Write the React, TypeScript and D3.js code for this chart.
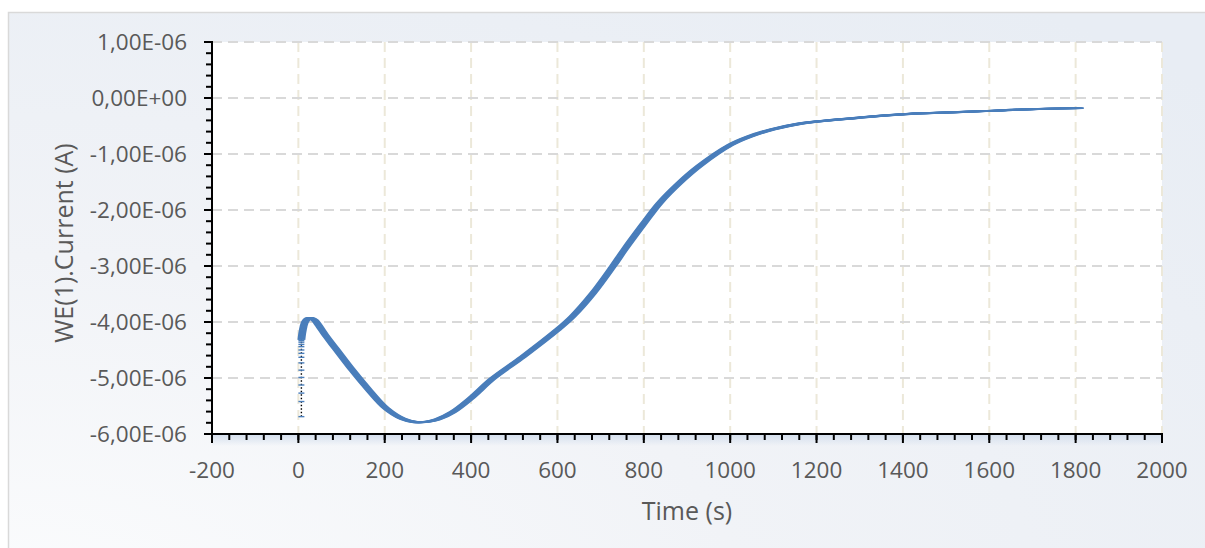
import * as React from 'react'
import { useEffect, useRef } from 'react'
import * as d3 from 'd3'

// sparse readings at switch-on (vertical run near t = 0)
const startTime = [7, 7, 7, 7, 7, 7, 7, 7, 7, 7, 7, 7, 7, 7]
const startCurrent = [
  -5.69e-6, -5.42e-6, -5.27e-6, -5.125e-6, -4.99e-6, -4.86e-6, -4.73e-6,
  -4.63e-6, -4.56e-6, -4.5e-6, -4.44e-6, -4.4e-6, -4.36e-6, -4.33e-6,
]

// main trace
const mainTime = [
  7, 9, 12, 16, 22, 29, 38, 48, 65, 87, 126, 164, 203, 242, 273, 300, 322,
  357, 398, 450, 520, 600, 635, 682, 728, 755, 800, 836, 882, 929, 1000, 1044,
  1098, 1160, 1200, 1300, 1400, 1500, 1600, 1693, 1812,
]
const mainCurrent = [
  -4.32e-6, -4.2e-6, -4.08e-6, -3.99e-6, -3.94e-6, -3.93e-6, -3.97e-6,
  -4.07e-6, -4.26e-6, -4.48e-6, -4.87e-6, -5.22e-6, -5.54e-6, -5.73e-6,
  -5.79e-6, -5.78e-6, -5.74e-6, -5.61e-6, -5.37e-6, -5.01e-6, -4.62e-6,
  -4.14e-6, -3.9e-6, -3.49e-6, -3.01e-6, -2.71e-6, -2.24e-6, -1.88e-6,
  -1.52e-6, -1.21e-6, -0.84e-6, -0.69e-6, -0.56e-6, -0.46e-6, -0.42e-6,
  -0.35e-6, -0.29e-6, -0.26e-6, -0.23e-6, -0.2e-6, -0.18e-6,
]

const xTicks = [-200, 0, 200, 400, 600, 800, 1000, 1200, 1400, 1600, 1800, 2000]
const yTicks = [1e-6, 0, -1e-6, -2e-6, -3e-6, -4e-6, -5e-6, -6e-6]
const yTickLabels = [
  '1,00E-06', '0,00E+00', '-1,00E-06', '-2,00E-06', '-3,00E-06', '-4,00E-06',
  '-5,00E-06', '-6,00E-06',
]

const W = 1205
const H = 548
const FONT = '"Open Sans", sans-serif'
const TEXT = '#595959'
const BLUE = '#4a7ebb'

export default function App() {
  const svgRef = useRef<SVGSVGElement>(null)

  useEffect(() => {
    if (!svgRef.current) return
    const svg = d3.select(svgRef.current)
    svg.selectAll('*').remove()

    const left = 212
    const right = 1162
    const top = 42
    const bottom = 434

    const x = d3.scaleLinear().domain([-200, 2000]).range([left, right])
    const y = d3.scaleLinear().domain([-6e-6, 1e-6]).range([bottom, top])

    const defs = svg.append('defs')
    const bg = defs.append('radialGradient')
      .attr('id', 'bg')
      .attr('cx', '0').attr('cy', '1').attr('r', '1.3')
    bg.append('stop').attr('offset', '0').attr('stop-color', '#fbfcfd')
    bg.append('stop').attr('offset', '0.45').attr('stop-color', '#f1f3f7')
    bg.append('stop').attr('offset', '1').attr('stop-color', '#e8edf4')

    const band = defs.append('linearGradient')
      .attr('id', 'band').attr('x1', 0).attr('y1', 0).attr('x2', 0).attr('y2', 1)
    band.append('stop').attr('offset', '0').attr('stop-color', '#d3deed')
    band.append('stop').attr('offset', '1').attr('stop-color', '#d3deed').attr('stop-opacity', 0)

    // chart area (runs off the right and bottom edges)
    svg.append('rect')
      .attr('x', 8.5).attr('y', 12.5)
      .attr('width', W + 40).attr('height', H + 40)
      .attr('fill', 'url(#bg)')
      .attr('stroke', '#d9d9d9')
      .attr('stroke-width', 1.5)

    // plot area
    svg.append('rect')
      .attr('x', left).attr('y', top)
      .attr('width', right - left).attr('height', bottom - top)
      .attr('fill', '#ffffff')

    svg.append('rect')
      .attr('x', left).attr('y', bottom)
      .attr('width', right - left).attr('height', 12)
      .attr('fill', 'url(#band)')

    // grid
    const grid = svg.append('g')
    grid.selectAll('.vg')
      .data(xTicks.filter(t => t > -200))
      .join('line')
      .attr('x1', d => x(d)).attr('x2', d => x(d))
      .attr('y1', top).attr('y2', bottom)
      .attr('stroke', '#ece8d9')
      .attr('stroke-width', 2)
      .attr('stroke-dasharray', '10 6')
    grid.selectAll('.hg')
      .data(yTicks.filter(t => t > -6e-6))
      .join('line')
      .attr('x1', left).attr('x2', right)
      .attr('y1', d => y(d)).attr('y2', d => y(d))
      .attr('stroke', '#d9d9d9')
      .attr('stroke-width', 2)
      .attr('stroke-dasharray', '10 6')

    // series
    const line = d3.line<[number, number]>()
      .x(d => x(d[0]))
      .y(d => y(d[1]))
      .curve(d3.curveCatmullRom.alpha(0.5))
    const mainPts: [number, number][] = mainTime.map((t, i) => [t, mainCurrent[i]])
    const startPts: [number, number][] = startTime.map((t, i) => [t, startCurrent[i]])

    const series = svg.append('g')
    series.append('path')
      .attr('d', d3.line<[number, number]>().x(d => x(d[0])).y(d => y(d[1]))(startPts.concat([mainPts[0]])) || '')
      .attr('fill', 'none')
      .attr('stroke', '#000')
      .attr('stroke-width', 1.4)
      .attr('stroke-dasharray', '1.5 2')
    series.append('path')
      .attr('d', line(mainPts) || '')
      .attr('fill', 'none')
      .attr('stroke', '#000')
      .attr('stroke-width', 1.2)
      .attr('stroke-dasharray', '1.5 2')

    // dash markers stacked along the trace
    const offsets = [-3, -2, -1, 0, 1, 2, 3]
    series.selectAll('.sweep')
      .data(offsets)
      .join('path')
      .attr('transform', d => `translate(${d},0)`)
      .attr('d', line(mainPts) || '')
      .attr('fill', 'none')
      .attr('stroke', BLUE)
      .attr('stroke-width', 1.9)

    series.selectAll('.mk')
      .data(startPts)
      .join('line')
      .attr('x1', d => x(d[0]) - 3).attr('x2', d => x(d[0]) + 3)
      .attr('y1', d => y(d[1])).attr('y2', d => y(d[1]))
      .attr('stroke', BLUE)
      .attr('stroke-width', 1.4)

    // axes
    const axes = svg.append('g')
    axes.append('line')
      .attr('x1', left).attr('x2', left)
      .attr('y1', top - 1).attr('y2', bottom + 1)
      .attr('stroke', '#000').attr('stroke-width', 2)
    axes.append('line')
      .attr('x1', left - 1).attr('x2', right + 1)
      .attr('y1', bottom).attr('y2', bottom)
      .attr('stroke', '#000').attr('stroke-width', 2)

    const yMinor = d3.range(-6e-6, 1.0001e-6, 2e-7)
    axes.selectAll('.ymt')
      .data(yMinor)
      .join('line')
      .attr('x1', left - 6).attr('x2', left)
      .attr('y1', d => y(d)).attr('y2', d => y(d))
      .attr('stroke', '#000').attr('stroke-width', 2)
    axes.selectAll('.yt')
      .data(yTicks)
      .join('line')
      .attr('x1', left - 8).attr('x2', left)
      .attr('y1', d => y(d)).attr('y2', d => y(d))
      .attr('stroke', '#000').attr('stroke-width', 2)

    const xMinor = d3.range(-200, 2001, 40)
    axes.selectAll('.xmt')
      .data(xMinor)
      .join('line')
      .attr('x1', d => x(d)).attr('x2', d => x(d))
      .attr('y1', bottom).attr('y2', bottom + 6)
      .attr('stroke', '#000').attr('stroke-width', 2)
    axes.selectAll('.xt')
      .data(xTicks)
      .join('line')
      .attr('x1', d => x(d)).attr('x2', d => x(d))
      .attr('y1', bottom).attr('y2', bottom + 9)
      .attr('stroke', '#000').attr('stroke-width', 2)

    // tick labels
    axes.selectAll('.yl')
      .data(yTicks)
      .join('text')
      .attr('x', 187)
      .attr('y', d => y(d))
      .attr('dy', '0.35em')
      .attr('text-anchor', 'end')
      .attr('font-family', FONT)
      .attr('font-size', 22.5)
      .attr('fill', TEXT)
      .text((d, i) => yTickLabels[i])

    axes.selectAll('.xl')
      .data(xTicks)
      .join('text')
      .attr('x', d => x(d))
      .attr('y', 478)
      .attr('text-anchor', 'middle')
      .attr('font-family', FONT)
      .attr('font-size', 22.5)
      .attr('fill', TEXT)
      .text(d => String(d))

    // titles
    svg.append('text')
      .attr('x', 687)
      .attr('y', 520)
      .attr('text-anchor', 'middle')
      .attr('font-family', FONT)
      .attr('font-size', 25)
      .attr('fill', TEXT)
      .text('Time (s)')

    svg.append('text')
      .attr('transform', 'translate(73,243) rotate(-90)')
      .attr('text-anchor', 'middle')
      .attr('font-family', FONT)
      .attr('font-size', 25)
      .attr('fill', TEXT)
      .text('WE(1).Current (A)')
  }, [])

  return (
    <div style={{ position: 'absolute', left: 0, top: 0 }}>
      <svg ref={svgRef} width={W} height={H} style={{ display: 'block' }} />
    </div>
  )
}
